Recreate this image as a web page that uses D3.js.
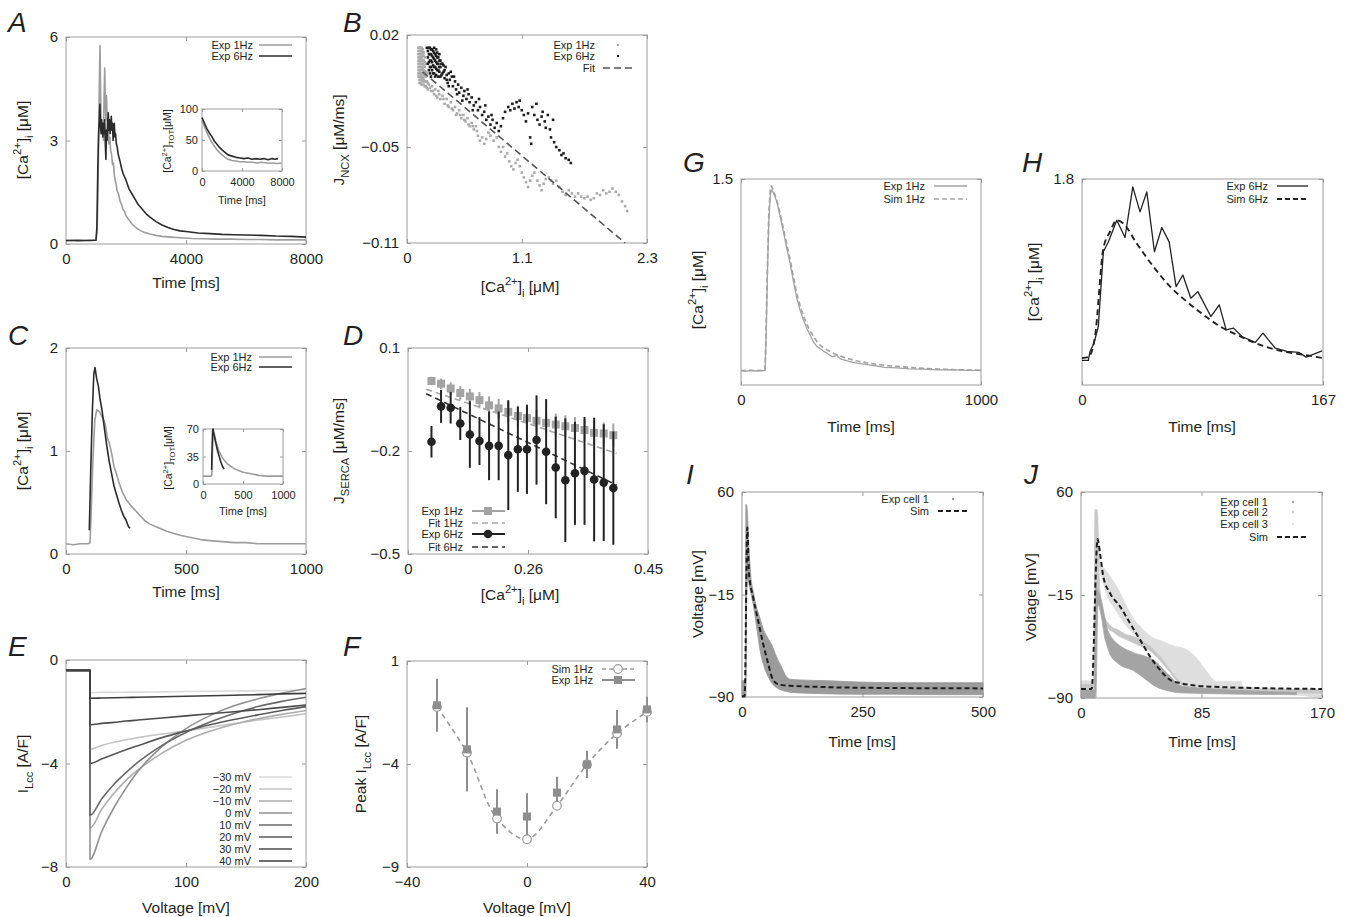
<!DOCTYPE html>
<html>
<head>
<meta charset="utf-8">
<script src="https://cdn.jsdelivr.net/npm/d3@7"></script>
<style>
  html, body { margin: 0; padding: 0; background: #fff; }
</style>
</head>
<body>
<svg id="fig" width="1346" height="917" xmlns="http://www.w3.org/2000/svg"></svg>
<script>
// ================= data =================

// A: [Ca2+]i transients, time (ms) vs concentration (uM)
const aExp1Hz = [[0,0.1],[200,0.11],[400,0.09],[600,0.1],[800,0.11],[1000,0.12],[1040,0.4],[1070,1.8],[1100,3.9],[1120,5.1],[1135,5.75],[1150,4.6],[1170,3.6],[1190,3.2],[1210,3.5],[1230,3.3],[1250,3.0],[1270,4.3],[1290,5.1],[1310,4.2],[1330,3.6],[1350,4.3],[1370,3.7],[1390,3.2],[1410,3.4],[1430,2.9],[1460,3.1],[1490,2.7],[1520,2.6],[1550,2.3],[1580,2.35],[1610,2.0],[1640,1.85],[1670,1.75],[1700,1.55],[1750,1.45],[1800,1.25],[1850,1.15],[1900,1.0],[1950,0.95],[2000,0.82],[2100,0.7],[2200,0.58],[2300,0.5],[2400,0.43],[2500,0.38],[2600,0.34],[2800,0.29],[3000,0.25],[3200,0.22],[3500,0.2],[3800,0.18],[4200,0.16],[4600,0.15],[5000,0.14],[5500,0.14],[6000,0.13],[6500,0.13],[7000,0.12],[7500,0.12],[8000,0.12]];
const aExp6Hz = [[0,0.1],[200,0.1],[400,0.11],[600,0.1],[800,0.1],[1000,0.11],[1030,0.5],[1060,2.2],[1090,3.3],[1110,3.6],[1130,4.05],[1150,3.4],[1170,3.2],[1190,3.6],[1210,3.3],[1230,3.1],[1250,3.5],[1270,3.2],[1290,3.6],[1310,2.9],[1330,2.45],[1350,3.3],[1370,3.0],[1390,3.5],[1410,3.8],[1430,3.3],[1450,3.6],[1470,3.2],[1490,3.4],[1510,3.7],[1530,3.3],[1550,3.5],[1570,3.0],[1590,3.4],[1610,3.5],[1630,3.1],[1650,3.2],[1680,2.9],[1710,2.8],[1740,2.6],[1770,2.5],[1800,2.4],[1850,2.2],[1900,2.05],[1950,1.95],[2000,1.85],[2100,1.6],[2200,1.45],[2300,1.3],[2400,1.15],[2500,1.05],[2600,0.95],[2700,0.85],[2800,0.78],[3000,0.65],[3200,0.55],[3400,0.48],[3600,0.42],[3800,0.38],[4000,0.36],[4400,0.32],[4800,0.3],[5200,0.28],[5600,0.27],[6000,0.26],[6500,0.25],[7000,0.23],[7500,0.22],[8000,0.2]];
// A inset: total Ca2+ (uM)
const aTot1Hz = [[0,82],[250,71],[500,62],[750,53],[1000,46],[1250,40],[1500,34],[1750,30],[2000,26],[2300,22],[2600,19],[3000,17],[3400,16],[3800,15],[4200,15],[4600,14],[5000,14],[5500,13],[6000,14],[6500,13],[7000,13],[7500,12],[8000,13]];
const aTot6Hz = [[0,86],[250,77],[500,68],[750,61],[1000,55],[1250,48],[1500,43],[1750,38],[2000,34],[2300,30],[2600,26],[3000,24],[3400,22],[3800,21],[4200,20],[4600,21],[5000,19],[5400,20],[5800,19],[6200,20],[6600,18],[7000,20],[7300,19],[7600,20]];

// B: NCX flux vs [Ca2+]i
const bExp1Hz = [[0.11,0.012],[0.11,0.008],[0.11,0.004],[0.11,0.0],[0.11,-0.004],[0.12,0.01],[0.12,0.006],[0.12,0.002],[0.12,-0.002],[0.12,-0.006],[0.12,-0.01],[0.13,0.012],[0.13,0.008],[0.13,0.004],[0.13,0.0],[0.13,-0.004],[0.13,-0.008],[0.14,0.01],[0.14,0.006],[0.14,0.002],[0.14,-0.002],[0.14,-0.006],[0.14,-0.011],[0.15,0.009],[0.15,0.004],[0.15,-0.001],[0.15,-0.007],[0.16,0.007],[0.16,0.001],[0.16,-0.005],[0.16,-0.011],[0.17,0.003],[0.17,-0.003],[0.17,-0.009],[0.18,-0.006],[0.18,-0.012],[0.19,-0.009],[0.2,-0.014],[0.21,-0.011],[0.23,-0.015],[0.24,-0.012],[0.26,-0.017],[0.27,-0.014],[0.29,-0.019],[0.3,-0.015],[0.32,-0.02],[0.34,-0.018],[0.36,-0.023],[0.38,-0.02],[0.4,-0.025],[0.42,-0.022],[0.44,-0.027],[0.46,-0.025],[0.48,-0.029],[0.5,-0.027],[0.52,-0.032],[0.54,-0.03],[0.56,-0.034],[0.58,-0.032],[0.6,-0.037],[0.62,-0.035],[0.64,-0.039],[0.66,-0.037],[0.68,-0.043],[0.7,-0.046],[0.72,-0.044],[0.74,-0.048],[0.76,-0.045],[0.78,-0.041],[0.8,-0.043],[0.83,-0.046],[0.86,-0.044],[0.88,-0.05],[0.9,-0.053],[0.92,-0.05],[0.94,-0.056],[0.96,-0.054],[0.98,-0.059],[1.0,-0.062],[1.02,-0.064],[1.04,-0.06],[1.06,-0.058],[1.08,-0.062],[1.1,-0.066],[1.12,-0.069],[1.14,-0.072],[1.16,-0.075],[1.18,-0.071],[1.2,-0.068],[1.22,-0.066],[1.25,-0.071],[1.27,-0.074],[1.29,-0.077],[1.31,-0.073],[1.33,-0.07],[1.36,-0.069],[1.38,-0.071],[1.4,-0.073],[1.43,-0.071],[1.46,-0.075],[1.49,-0.078],[1.52,-0.08],[1.55,-0.077],[1.58,-0.079],[1.61,-0.081],[1.64,-0.079],[1.67,-0.081],[1.7,-0.082],[1.73,-0.081],[1.76,-0.083],[1.79,-0.082],[1.82,-0.079],[1.85,-0.08],[1.88,-0.077],[1.91,-0.079],[1.94,-0.078],[1.97,-0.076],[2.0,-0.078],[2.03,-0.08],[2.06,-0.084],[2.09,-0.087],[2.11,-0.09],
  [0.11,0.01],[0.11,0.006],[0.11,0.002],[0.11,-0.002],[0.11,-0.006],[0.12,0.012],[0.12,0.008],[0.12,0.004],[0.12,0.0],[0.12,-0.004],[0.12,-0.008],[0.13,0.01],[0.13,0.006],[0.13,0.002],[0.13,-0.002],[0.13,-0.006],[0.13,-0.01],[0.14,0.012],[0.14,0.008],[0.14,0.004],[0.14,0.0],[0.14,-0.004],[0.14,-0.008],[0.15,0.011],[0.15,0.007],[0.15,0.002],[0.15,-0.004],[0.15,-0.009],[0.16,0.009],[0.16,0.004],[0.16,-0.002],[0.16,-0.008],[0.17,0.006],[0.17,0.0],[0.17,-0.006],[0.17,-0.012],[0.18,0.002],[0.18,-0.003],[0.18,-0.009],[0.19,-0.004],[0.19,-0.013],[0.2,-0.01],[0.22,-0.013],[0.25,-0.015],[0.28,-0.018],[0.31,-0.017],[0.35,-0.02],[0.39,-0.024],[0.43,-0.026],[0.47,-0.03],[0.51,-0.03],[0.55,-0.033],[0.59,-0.036],[0.63,-0.037],[0.67,-0.04]];
const bExp6Hz = [[0.19,0.012],[0.2,0.01],[0.2,0.006],[0.21,0.012],[0.21,0.003],[0.22,0.008],[0.22,0.0],[0.23,0.011],[0.23,0.004],[0.24,-0.002],[0.24,0.007],[0.25,0.01],[0.25,0.001],[0.26,0.005],[0.26,-0.004],[0.27,0.008],[0.27,0.0],[0.28,0.003],[0.28,-0.005],[0.29,0.006],[0.29,-0.002],[0.3,0.002],[0.3,-0.006],[0.31,0.004],[0.31,-0.003],[0.32,0.0],[0.33,-0.005],[0.34,0.002],[0.35,-0.003],[0.36,-0.007],[0.37,0.0],[0.38,-0.005],[0.39,-0.01],[0.4,-0.004],[0.41,-0.008],[0.43,-0.006],[0.44,-0.012],[0.46,-0.009],[0.47,-0.014],[0.49,-0.011],[0.5,-0.016],[0.52,-0.013],[0.54,-0.018],[0.55,-0.015],[0.57,-0.02],[0.59,-0.017],[0.6,-0.022],[0.62,-0.019],[0.64,-0.024],[0.66,-0.022],[0.68,-0.027],[0.7,-0.025],[0.72,-0.03],[0.74,-0.028],[0.76,-0.033],[0.78,-0.031],[0.8,-0.036],[0.82,-0.033],[0.84,-0.038],[0.86,-0.035],[0.88,-0.04],[0.9,-0.037],[0.92,-0.032],[0.94,-0.028],[0.97,-0.025],[0.99,-0.027],[1.01,-0.023],[1.03,-0.026],[1.05,-0.022],[1.07,-0.025],[1.08,-0.021],[1.1,-0.027],[1.12,-0.03],[1.14,-0.034],[1.16,-0.029],[1.18,-0.044],[1.19,-0.048],[1.2,-0.025],[1.22,-0.03],[1.24,-0.023],[1.25,-0.033],[1.27,-0.036],[1.29,-0.031],[1.3,-0.028],[1.32,-0.034],[1.33,-0.038],[1.35,-0.03],[1.37,-0.039],[1.38,-0.044],[1.4,-0.033],[1.41,-0.047],[1.43,-0.05],[1.46,-0.052],[1.48,-0.055],[1.5,-0.054],[1.52,-0.057],[1.55,-0.058],[1.57,-0.06],
  [0.2,0.002],[0.21,0.008],[0.21,-0.002],[0.22,0.012],[0.22,0.004],[0.22,-0.004],[0.23,0.008],[0.23,0.0],[0.23,-0.006],[0.24,0.011],[0.24,0.003],[0.25,0.006],[0.25,-0.004],[0.26,0.012],[0.26,0.009],[0.26,0.0],[0.27,0.004],[0.27,-0.006],[0.28,0.011],[0.28,0.007],[0.28,-0.001],[0.29,0.009],[0.29,0.002],[0.3,0.006],[0.3,-0.002],[0.31,0.008],[0.31,0.0],[0.32,0.004],[0.32,-0.006],[0.33,0.002],[0.34,-0.004],[0.35,0.001],[0.36,-0.002],[0.38,-0.008],[0.4,-0.012],[0.42,-0.003],[0.45,-0.006],[0.48,-0.017],[0.53,-0.021],[0.58,-0.014],[0.63,-0.027],[0.69,-0.02],[0.75,-0.024],[0.81,-0.03]];
const bFit = [[0.15,-0.003],[2.09,-0.11]];

// C: [Ca2+]i transients over one beat
const cExp1Hz = [[0,0.1],[30,0.09],[60,0.1],[90,0.1],[100,0.11],[105,0.4],[112,0.9],[120,1.3],[128,1.4],[140,1.38],[150,1.33],[158,1.3],[165,1.24],[172,1.13],[180,1.08],[190,0.98],[200,0.85],[210,0.78],[220,0.7],[235,0.6],[250,0.53],[270,0.47],[290,0.42],[310,0.37],[330,0.32],[350,0.29],[380,0.26],[420,0.22],[450,0.2],[480,0.18],[520,0.16],[560,0.14],[600,0.13],[650,0.12],[700,0.11],[750,0.11],[800,0.1],[850,0.1],[900,0.1],[950,0.1],[1000,0.1]];
const cExp6Hz = [[97,0.23],[103,0.8],[110,1.4],[116,1.75],[121,1.81],[128,1.7],[135,1.63],[142,1.5],[150,1.4],[160,1.22],[170,1.05],[180,0.9],[190,0.78],[200,0.66],[210,0.58],[220,0.5],[230,0.43],[240,0.37],[250,0.33],[258,0.28],[262,0.26],[267,0.25]];
const cTot1Hz = [[0,10],[50,10],[100,10],[110,11],[118,40],[128,66],[140,64],[160,55],[200,42],[250,32],[300,26],[400,19],[500,15],[600,13],[700,11],[800,10],[900,10],[1000,10]];
const cTot6Hz = [[108,18],[112,40],[120,68],[126,70],[140,62],[160,52],[180,43],[200,36],[220,29],[245,22],[265,19]];

// D: SERCA flux vs [Ca2+]i, mean and error
const dCa = [0.044,0.062,0.080,0.098,0.116,0.134,0.152,0.170,0.188,0.206,0.223,0.241,0.259,0.277,0.295,0.313,0.331,0.349,0.367,0.385];
const dExp1Hz = [0.004,-0.004,-0.018,-0.031,-0.041,-0.052,-0.067,-0.076,-0.086,-0.098,-0.104,-0.112,-0.118,-0.123,-0.128,-0.133,-0.139,-0.147,-0.149,-0.154];
const dErr1Hz = [0.012,0.015,0.018,0.02,0.022,0.024,0.026,0.028,0.03,0.03,0.032,0.032,0.032,0.032,0.032,0.032,0.032,0.032,0.032,0.034];
const dExp6Hz = [-0.173,-0.070,-0.074,-0.120,-0.152,-0.171,-0.185,-0.185,-0.212,-0.195,-0.195,-0.168,-0.202,-0.248,-0.285,-0.265,-0.258,-0.283,-0.292,-0.308];
const dErr6Hz = [0.046,0.048,0.046,0.048,0.097,0.07,0.1,0.1,0.16,0.124,0.13,0.13,0.153,0.148,0.18,0.15,0.157,0.18,0.17,0.165];
const dFit1Hz = [[0.034,-0.020],[0.391,-0.207]];
const dFit6Hz = [[0.034,-0.033],[0.391,-0.299]];

// E: L-type Ca2+ current traces for voltage steps
const eStepLabels = ['\u221230 mV','\u221220 mV','\u221210 mV','0 mV','10 mV','20 mV','30 mV','40 mV'];
const eHold = [[0,-0.4],[20,-0.4]];
const eTimes = [20,30,40,50,60,80,100,120,140,160,180,200];
const eCurrents = [
  [-1.26,-1.25,-1.25,-1.24,-1.24,-1.23,-1.22,-1.21,-1.2,-1.19,-1.18,-1.16],
  [-3.45,-3.3,-3.18,-3.08,-3.0,-2.86,-2.74,-2.6,-2.46,-2.32,-2.2,-2.08],
  [-6.5,-5.75,-5.15,-4.65,-4.25,-3.6,-3.1,-2.75,-2.48,-2.27,-2.1,-1.95],
  [-7.7,-6.6,-5.7,-4.95,-4.3,-3.35,-2.65,-2.15,-1.77,-1.5,-1.28,-1.1],
  [-6.0,-5.35,-4.8,-4.35,-3.95,-3.3,-2.8,-2.4,-2.07,-1.8,-1.6,-1.44],
  [-4.0,-3.82,-3.64,-3.47,-3.31,-3.0,-2.74,-2.5,-2.3,-2.12,-1.95,-1.8],
  [-2.5,-2.45,-2.41,-2.36,-2.32,-2.24,-2.16,-2.08,-2.0,-1.92,-1.83,-1.74],
  [-1.48,-1.47,-1.46,-1.45,-1.44,-1.42,-1.40,-1.38,-1.36,-1.34,-1.31,-1.29]
];

// F: peak I-V relation
const fVolt = [-30,-20,-10,0,10,20,30,40];
const fSim1Hz = [-1.23,-3.45,-6.65,-7.65,-6.03,-4.02,-2.52,-1.47];
const fExp1Hz = [-1.15,-3.29,-6.31,-6.55,-5.39,-4.02,-2.32,-1.35];
const fErr1Hz = [1.29,2.04,1.08,1.13,0.77,0.66,0.94,0.62];

// G: 1 Hz transient, experiment vs simulation
const gExp1Hz = [[0,0.106],[20,0.1],[40,0.108],[60,0.102],[80,0.106],[100,0.105],[104,0.3],[110,0.8],[116,1.2],[122,1.38],[126,1.42],[132,1.41],[140,1.38],[150,1.33],[160,1.25],[170,1.17],[180,1.09],[190,1.0],[205,0.886],[220,0.74],[233,0.63],[247,0.54],[261,0.47],[275,0.41],[289,0.36],[303,0.31],[317,0.28],[330,0.265],[344,0.245],[360,0.23],[380,0.205],[400,0.215],[414,0.19],[450,0.172],[483,0.16],[520,0.15],[560,0.14],[600,0.128],[650,0.125],[700,0.118],[761,0.116],[820,0.11],[880,0.112],[940,0.106],[1000,0.106]];
const gSim1Hz = [[0,0.105],[100,0.105],[104,0.35],[110,0.85],[116,1.25],[122,1.42],[126,1.45],[132,1.43],[140,1.39],[150,1.34],[160,1.27],[170,1.19],[180,1.11],[190,1.03],[205,0.91],[220,0.77],[233,0.66],[247,0.57],[261,0.5],[275,0.44],[289,0.39],[303,0.35],[317,0.315],[330,0.29],[344,0.27],[380,0.235],[414,0.21],[450,0.19],[483,0.175],[520,0.163],[560,0.152],[600,0.143],[650,0.135],[700,0.128],[761,0.121],[820,0.116],[880,0.112],[940,0.109],[1000,0.107]];

// H: 6 Hz transient, experiment vs simulation
const hExp6Hz = [[0,0.215],[4.4,0.215],[5.55,0.293],[8.33,0.366],[11.3,0.511],[14.8,1.164],[18.3,1.251],[24.1,1.44],[29.8,1.289],[35.2,1.731],[40.2,1.513],[44.9,1.687],[50.2,1.164],[55.3,1.376],[60.4,1.251],[65.2,0.859],[69.9,0.961],[75.4,0.758],[80.3,0.816],[89.3,0.598],[95.1,0.7],[99.9,0.482],[105,0.497],[110.8,0.424],[120.1,0.372],[125.4,0.453],[133.9,0.322],[142,0.293],[150.1,0.285],[155.4,0.244],[166.3,0.299]];
const hSim6Hz = [[0,0.235],[4.4,0.244],[9,0.424],[14.8,1.193],[19.4,1.339],[24.1,1.44],[28.7,1.411],[37.9,1.237],[49.5,1.034],[61.1,0.859],[72.6,0.729],[84.2,0.613],[95.8,0.511],[107.3,0.438],[118.9,0.372],[130.5,0.322],[142,0.287],[153.6,0.264],[167,0.235]];

// I: action potentials, envelope of recorded traces [t, low, high] and simulation
const iCell1 = [[0,-90,-78],[7,-90,-78],[8,-90,51],[10,-12,50],[12,-2,40],[14,-6,22],[16,-10,10],[19,-15,-4],[23,-22,-12],[30,-38,-24],[37,-55,-32],[45,-67,-41],[54,-75,-47],[62,-80,-52],[71,-83,-60],[82,-85,-68],[92,-86,-75],[100,-86.5,-77],[120,-87,-77.5],[170,-87.6,-78],[240,-88,-79],[320,-88,-79.5],[400,-88.3,-79.5],[500,-88.3,-79.5]];
const iSim = [[0,-89.5],[5.5,-89.5],[11,34],[14.5,0.4],[22.8,-16.6],[33.2,-33.6],[43.6,-50.6],[54,-65.2],[64.3,-77.4],[78,-81],[99,-81.7],[168,-82.7],[237,-83.2],[500,-83.7]];

// J: action potentials of three cells [t, low, high] and simulation
const jCell1 = [[0,-90,-84],[9.5,-90,-84],[10.5,-90,-10],[12,-22,-12],[14.6,-32,-20],[16.9,-47,-32],[18.1,-51,-38],[20.4,-58,-44],[25.1,-64,-50],[27.5,-66,-52],[36.9,-70,-57],[46.3,-77,-60],[53.3,-82,-64],[60.3,-84.5,-71.8],[62.7,-85.1,-74],[67.4,-86,-79.1],[74.4,-86.4,-82],[152,-87.6,-85.9]];
const jCell2 = [[0,-83,-80],[9,-83,-80],[10,-83,47],[11,-10,47],[13.4,-20.8,-11],[16.9,-35,-31.7],[18.1,-37.8,-34],[22.8,-42,-39],[25.1,-43.9,-40],[32.2,-47.5,-43.9],[34.5,-48.7,-44.5],[41.6,-52,-47.5],[48.6,-55.5,-52.4],[55.6,-62.5,-59.7],[62.7,-71,-69.4],[69.7,-79,-77.9],[79.1,-83.5,-82.7],[170,-86.4,-84]];
const jCell3 = [[0,-80,-77.5],[9,-80,-77.5],[10,-80,47],[11.5,8,47],[13.4,3,8.3],[15.7,-6.3,5],[18.1,-15,2.2],[22.8,-23.3,-5],[25.1,-27,-8.7],[32.2,-37.8,-23.3],[39.2,-46,-35.4],[41.6,-50,-38],[51,-57.2,-46.3],[58,-64.5,-49],[62.7,-70,-51.2],[65,-74.2,-52],[74.4,-81.5,-54.8],[81.5,-83,-60.9],[88.5,-84,-70.6],[95.6,-84.5,-77.9],[113,-85,-77.9],[114,-85,-82],[170,-90,-84]];
const jSim = [[0,-83.4],[7.5,-83.4],[11.7,25.8],[13.4,15.6],[15.7,-1.4],[20.4,-13.5],[27.5,-23.3],[34.5,-35.4],[41.6,-47.5],[48.6,-59.7],[55.6,-69.4],[62.7,-76.7],[69.7,-79.1],[79.1,-80.8],[97.9,-82],[121.4,-82.7],[170,-83.4]];

// ================= drawing =================
const FONT = '"Liberation Sans", Arial, Helvetica, sans-serif';
const INK = '#231f20';
const FRAME = '#9c9c9c';
const LIGHT = '#9d9d9d';
const DARK = '#2b2b2b';

const svg = d3.select('#fig');
svg.append('rect').attr('width', 1346).attr('height', 917).attr('fill', '#fff');

// text with super/subscripts; parts are strings or [text, 'sup'|'sub']
function rich(x, y, parts, fs, anchor, rotate) {
  const t = svg.append('text')
    .attr('x', x).attr('y', y)
    .attr('font-family', FONT).attr('font-size', fs).attr('fill', INK)
    .attr('text-anchor', anchor || 'middle');
  if (rotate) t.attr('transform', `rotate(-90 ${x} ${y})`);
  let shift = 0;
  parts.forEach(p => {
    const str = Array.isArray(p) ? p[0] : p;
    const kind = Array.isArray(p) ? p[1] : '';
    const off = kind === 'sup' ? -0.42 * fs : kind === 'sub' ? 0.3 * fs : 0;
    t.append('tspan').attr('dy', off - shift).attr('font-size', kind ? 0.72 * fs : fs).text(str);
    shift = off;
  });
  return t;
}

function letter(x, y, s) {
  svg.append('text').attr('x', x).attr('y', y).attr('font-family', FONT)
    .attr('font-size', 28).attr('font-style', 'italic').attr('fill', INK).text(s);
}

// frame with mirrored inward ticks
function frameAxes(x, y, o) {
  const g = svg.append('g');
  const [xa, xb] = x.range();
  const [yb, ya] = y.range();
  const fs = o.fs || 15, tk = o.tk || 4;
  const style = s => {
    s.select('.domain').remove();
    s.selectAll('line').attr('stroke', FRAME).attr('stroke-width', 1);
    s.selectAll('text').attr('font-size', fs).attr('font-family', FONT).attr('fill', INK);
  };
  g.append('g').attr('transform', `translate(0,${yb})`)
    .call(d3.axisBottom(x).tickValues(o.xv).tickFormat((d, i) => o.xl[i])
      .tickSizeInner(-tk).tickSizeOuter(0).tickPadding(o.xpad || 9)).call(style);
  g.append('g').attr('transform', `translate(0,${ya})`)
    .call(d3.axisTop(x).tickValues(o.xv).tickFormat('').tickSizeInner(-tk).tickSizeOuter(0)).call(style);
  g.append('g').attr('transform', `translate(${xa},0)`)
    .call(d3.axisLeft(y).tickValues(o.yv).tickFormat((d, i) => o.yl[i])
      .tickSizeInner(-tk).tickSizeOuter(0).tickPadding(o.ypad || 8)).call(style);
  g.append('g').attr('transform', `translate(${xb},0)`)
    .call(d3.axisRight(y).tickValues(o.yv).tickFormat('').tickSizeInner(-tk).tickSizeOuter(0)).call(style);
  g.append('rect').attr('x', xa).attr('y', ya).attr('width', xb - xa).attr('height', yb - ya)
    .attr('fill', 'none').attr('stroke', FRAME).attr('stroke-width', 1);
  return g;
}

function path(data, x, y, stroke, width, dash, curve) {
  const gen = d3.line().x(d => x(d[0])).y(d => y(d[1])).curve(curve || d3.curveLinear);
  svg.append('path').datum(data).attr('d', gen).attr('fill', 'none')
    .attr('stroke', stroke).attr('stroke-width', width)
    .attr('stroke-dasharray', dash || null).attr('stroke-linejoin', 'round');
}

function band(data, x, y, fill) {
  const gen = d3.area().x(d => x(d[0])).y0(d => y(d[1])).y1(d => y(d[2])).curve(d3.curveMonotoneX);
  svg.append('path').datum(data).attr('d', gen).attr('fill', fill).attr('stroke', fill).attr('stroke-width', 0.8);
}

function legendText(x, y, s, fs) {
  svg.append('text').attr('x', x).attr('y', y).attr('font-family', FONT)
    .attr('font-size', fs || 11).attr('fill', INK).attr('text-anchor', 'end').text(s);
}
function legendLine(x1, x2, y, stroke, width, dash) {
  svg.append('line').attr('x1', x1).attr('x2', x2).attr('y1', y).attr('y2', y)
    .attr('stroke', stroke).attr('stroke-width', width).attr('stroke-dasharray', dash || null);
}

const caLabel = ['[Ca', ['2+', 'sup'], ']', ['i', 'sub'], ' [\u03bcM]'];
const caTotLabel = ['[Ca', ['2+', 'sup'], ']', ['TOT', 'sub'], '[\u03bcM]'];

// ---------- A ----------
{
  const x = d3.scaleLinear().domain([0, 8000]).range([66, 306]);
  const y = d3.scaleLinear().domain([0, 6]).range([244, 37]);
  frameAxes(x, y, { xv: [0, 4000, 8000], xl: ['0', '4000', '8000'], yv: [0, 3, 6], yl: ['0', '3', '6'] });
  path(aExp1Hz, x, y, LIGHT, 1.6);
  path(aExp6Hz, x, y, DARK, 1.6);
  legendText(253, 49, 'Exp 1Hz'); legendLine(259, 292, 45, LIGHT, 1.6);
  legendText(253, 60, 'Exp 6Hz'); legendLine(259, 292, 56, DARK, 1.6);
  letter(8, 32, 'A');
  rich(28, 140, caLabel, 15.5, 'middle', true);
  rich(186, 288, ['Time [ms]'], 15.5);
  // inset: total calcium
  const xi = d3.scaleLinear().domain([0, 8000]).range([202, 282]);
  const yi = d3.scaleLinear().domain([0, 100]).range([171, 109]);
  svg.append('rect').attr('x', 202).attr('y', 109).attr('width', 80).attr('height', 62).attr('fill', '#fff');
  frameAxes(xi, yi, { xv: [0, 4000, 8000], xl: ['0', '4000', '8000'], yv: [0, 50, 100], yl: ['0', '50', '100'], fs: 11, tk: 3, xpad: 7, ypad: 4 });
  path(aTot1Hz, xi, yi, LIGHT, 1.6);
  path(aTot6Hz, xi, yi, DARK, 1.6);
  rich(171, 141, caTotLabel, 10.5, 'middle', true);
  rich(242, 204, ['Time [ms]'], 11);
}

// ---------- B ----------
{
  const x = d3.scaleLinear().domain([0, 2.3]).range([407, 647]);
  const y = d3.scaleLinear().domain([-0.11, 0.02]).range([243, 35]);
  frameAxes(x, y, { xv: [0, 1.1, 2.3], xl: ['0', '1.1', '2.3'], yv: [0.02, -0.05, -0.11], yl: ['0.02', '\u22120.05', '\u22120.11'] });
  svg.append('g').selectAll('rect').data(bExp1Hz).join('rect')
    .attr('x', d => x(d[0]) - 1.3).attr('y', d => y(d[1]) - 1.3).attr('width', 2.6).attr('height', 2.6).attr('fill', '#ababab');
  svg.append('g').selectAll('rect').data(bExp6Hz).join('rect')
    .attr('x', d => x(d[0]) - 1.3).attr('y', d => y(d[1]) - 1.3).attr('width', 2.6).attr('height', 2.6).attr('fill', '#1e1e1e');
  path(bFit, x, y, '#555', 1.6, '7,4');
  legendText(595, 49, 'Exp 1Hz'); svg.append('rect').attr('x', 617).attr('y', 44).attr('width', 2).attr('height', 2).attr('fill', '#ababab');
  legendText(595, 60, 'Exp 6Hz'); svg.append('rect').attr('x', 617).attr('y', 55).attr('width', 2).attr('height', 2).attr('fill', '#1e1e1e');
  legendText(595, 72, 'Fit'); legendLine(603, 633, 68, '#555', 1.6, '7,4');
  letter(343, 32, 'B');
  rich(344, 140, ['J', ['NCX', 'sub'], ' [\u03bcM/ms]'], 15.5, 'middle', true);
  rich(520, 292, caLabel, 15.5);
}

// ---------- C ----------
{
  const x = d3.scaleLinear().domain([0, 1000]).range([66, 306]);
  const y = d3.scaleLinear().domain([0, 2]).range([554, 348]);
  frameAxes(x, y, { xv: [0, 500, 1000], xl: ['0', '500', '1000'], yv: [0, 1, 2], yl: ['0', '1', '2'] });
  path(cExp1Hz, x, y, LIGHT, 1.6);
  path(cExp6Hz, x, y, DARK, 1.6);
  legendText(252, 361, 'Exp 1Hz'); legendLine(259, 292, 357, LIGHT, 1.6);
  legendText(252, 371, 'Exp 6Hz'); legendLine(259, 292, 367, DARK, 1.6);
  letter(8, 345, 'C');
  rich(28, 451, caLabel, 15.5, 'middle', true);
  rich(186, 597, ['Time [ms]'], 15.5);
  const xi = d3.scaleLinear().domain([0, 1000]).range([203, 283]);
  const yi = d3.scaleLinear().domain([0, 70]).range([484, 429]);
  frameAxes(xi, yi, { xv: [0, 500, 1000], xl: ['0', '500', '1000'], yv: [0, 35, 70], yl: ['0', '35', '70'], fs: 11, tk: 3, xpad: 7, ypad: 4 });
  path(cTot1Hz, xi, yi, LIGHT, 1.6);
  path(cTot6Hz, xi, yi, DARK, 1.6);
  rich(172, 458, caTotLabel, 10.5, 'middle', true);
  rich(243, 515, ['Time [ms]'], 11);
}

// ---------- D ----------
{
  const x = d3.scaleLinear().domain([0, 0.45]).range([408, 648]);
  const y = d3.scaleLinear().domain([-0.5, 0.1]).range([554, 348]);
  frameAxes(x, y, { xv: [0, 0.225, 0.45], xl: ['0', '0.26', '0.45'], yv: [0.1, -0.2, -0.5], yl: ['0.1', '\u22120.2', '\u22120.5'] });
  const SQ = '#a3a3a3';
  path(dFit1Hz, x, y, '#a8a8a8', 1.6, '6,4');
  path(dFit6Hz, x, y, '#333', 1.6, '6,4');
  dCa.forEach((c, i) => {
    svg.append('line').attr('x1', x(c)).attr('x2', x(c)).attr('y1', y(dExp1Hz[i] - dErr1Hz[i])).attr('y2', y(dExp1Hz[i] + dErr1Hz[i]))
      .attr('stroke', SQ).attr('stroke-width', 2);
    svg.append('rect').attr('x', x(c) - 4).attr('y', y(dExp1Hz[i]) - 4).attr('width', 8).attr('height', 8).attr('fill', SQ);
  });
  dCa.forEach((c, i) => {
    svg.append('line').attr('x1', x(c)).attr('x2', x(c)).attr('y1', y(dExp6Hz[i] - dErr6Hz[i])).attr('y2', y(dExp6Hz[i] + dErr6Hz[i]))
      .attr('stroke', '#222').attr('stroke-width', 2);
    svg.append('circle').attr('cx', x(c)).attr('cy', y(dExp6Hz[i])).attr('r', 4.3).attr('fill', '#222');
  });
  legendText(463, 515, 'Exp 1Hz'); legendLine(472, 505, 511, SQ, 2);
  svg.append('rect').attr('x', 484).attr('y', 507).attr('width', 8).attr('height', 8).attr('fill', SQ);
  legendText(463, 527, 'Fit 1Hz'); legendLine(472, 505, 523, '#a8a8a8', 1.6, '6,4');
  legendText(463, 538, 'Exp 6Hz'); legendLine(472, 505, 534, '#222', 2);
  svg.append('circle').attr('cx', 488).attr('cy', 534).attr('r', 4.3).attr('fill', '#222');
  legendText(463, 551, 'Fit 6Hz'); legendLine(472, 505, 547, '#333', 1.6, '6,4');
  letter(343, 345, 'D');
  rich(344, 451, ['J', ['SERCA', 'sub'], ' [\u03bcM/ms]'], 15.5, 'middle', true);
  rich(520, 600, caLabel, 15.5);
}

// ---------- E ----------
{
  const x = d3.scaleLinear().domain([0, 200]).range([66, 306]);
  const y = d3.scaleLinear().domain([-8, 0]).range([867, 660]);
  frameAxes(x, y, { xv: [0, 100, 200], xl: ['0', '100', '200'], yv: [0, -4, -8], yl: ['0', '\u22124', '\u22128'] });
  const shades = ['#dadada', '#c3c3c3', '#adadad', '#919191', '#686868', '#595959', '#4b4b4b', '#3d3d3d'];
  eCurrents.forEach((vals, k) => {
    const trace = eHold.concat(eTimes.map((t, j) => [t, vals[j]]));
    path(trace, x, y, shades[k], 1.6, null, d3.curveMonotoneX);
  });
  eStepLabels.forEach((s, k) => {
    const cy = 777 + k * 12;
    legendText(251, cy + 4, s);
    legendLine(259, 292, cy, shades[k], 1.6);
  });
  letter(8, 656, 'E');
  rich(28, 764, ['I', ['Lcc', 'sub'], ' [A/F]'], 15.5, 'middle', true);
  rich(186, 913, ['Voltage [mV]'], 15.5);
}

// ---------- F ----------
{
  const x = d3.scaleLinear().domain([-40, 40]).range([407, 647]);
  const y = d3.scaleLinear().domain([-9, 1]).range([867, 661]);
  frameAxes(x, y, { xv: [-40, 0, 40], xl: ['\u221240', '0', '40'], yv: [1, -4, -9], yl: ['1', '\u22124', '\u22129'] });
  const SQ = '#8e8e8e';
  fVolt.forEach((v, i) => {
    svg.append('line').attr('x1', x(v)).attr('x2', x(v)).attr('y1', y(fExp1Hz[i] - fErr1Hz[i])).attr('y2', y(fExp1Hz[i] + fErr1Hz[i]))
      .attr('stroke', SQ).attr('stroke-width', 2);
  });
  path(fVolt.map((v, i) => [v, fSim1Hz[i]]), x, y, '#9a9a9a', 1.6, '5,4', d3.curveCatmullRom.alpha(0.5));
  fVolt.forEach((v, i) => {
    svg.append('circle').attr('cx', x(v)).attr('cy', y(fSim1Hz[i])).attr('r', 4.3).attr('fill', '#fff').attr('stroke', '#9a9a9a').attr('stroke-width', 1.2);
  });
  fVolt.forEach((v, i) => {
    svg.append('rect').attr('x', x(v) - 4).attr('y', y(fExp1Hz[i]) - 4).attr('width', 8).attr('height', 8).attr('fill', SQ);
  });
  legendText(593, 673, 'Sim 1Hz'); legendLine(602, 635, 669, '#9a9a9a', 1.6, '4,3');
  svg.append('circle').attr('cx', 618).attr('cy', 669).attr('r', 4.3).attr('fill', '#fff').attr('stroke', '#9a9a9a').attr('stroke-width', 1.2);
  legendText(593, 684, 'Exp 1Hz'); legendLine(602, 635, 680, SQ, 2);
  svg.append('rect').attr('x', 614).attr('y', 676).attr('width', 8).attr('height', 8).attr('fill', SQ);
  letter(343, 656, 'F');
  rich(366, 764, ['Peak I', ['Lcc', 'sub'], ' [A/F]'], 15.5, 'middle', true);
  rich(527, 913, ['Voltage [mV]'], 15.5);
}

// ---------- G ----------
{
  const x = d3.scaleLinear().domain([0, 1000]).range([741, 981]);
  const y = d3.scaleLinear().domain([0, 1.5]).range([385, 179]);
  frameAxes(x, y, { xv: [0, 1000], xl: ['0', '1000'], yv: [1.5], yl: ['1.5'] });
  path(gExp1Hz, x, y, '#a2a2a2', 1.3);
  path(gSim1Hz, x, y, '#a2a2a2', 1.7, '5,3');
  legendText(925, 190, 'Exp 1Hz'); legendLine(934, 967, 186, '#a2a2a2', 1.3);
  legendText(925, 203, 'Sim 1Hz'); legendLine(934, 967, 199, '#a2a2a2', 1.7, '5,3');
  letter(683, 172, 'G');
  rich(703, 290, caLabel, 15.5, 'middle', true);
  rich(861, 432, ['Time [ms]'], 15.5);
}

// ---------- H ----------
{
  const x = d3.scaleLinear().domain([0, 167]).range([1082, 1323]);
  const y = d3.scaleLinear().domain([0, 1.8]).range([385, 179]);
  frameAxes(x, y, { xv: [0, 167], xl: ['0', '167'], yv: [1.8], yl: ['1.8'] });
  path(hExp6Hz, x, y, '#222', 1.3);
  path(hSim6Hz, x, y, '#222', 1.9, '6,4', d3.curveMonotoneX);
  legendText(1268, 190, 'Exp 6Hz'); legendLine(1277, 1308, 186, '#222', 1.3);
  legendText(1268, 203, 'Sim 6Hz'); legendLine(1277, 1308, 199, '#222', 1.9, '5,3');
  letter(1022, 172, 'H');
  rich(1039, 282, caLabel, 15.5, 'middle', true);
  rich(1202, 432, ['Time [ms]'], 15.5);
}

// ---------- I ----------
{
  const x = d3.scaleLinear().domain([0, 500]).range([742, 983]);
  const y = d3.scaleLinear().domain([-90, 60]).range([697, 492]);
  band(iCell1, x, y, '#9b9b9b');
  frameAxes(x, y, { xv: [0, 250, 500], xl: ['0', '250', '500'], yv: [60, -15, -90], yl: ['60', '\u221215', '\u221290'] });
  path(iSim, x, y, '#1e1e1e', 2, '5,3', d3.curveMonotoneX);
  legendText(929, 503, 'Exp cell 1');
  svg.append('circle').attr('cx', 953).attr('cy', 499).attr('r', 1.2).attr('fill', '#9b9b9b');
  legendText(929, 515, 'Sim'); legendLine(938, 969, 511, '#1e1e1e', 2, '5,3');
  letter(686, 484, 'I');
  rich(703, 594, ['Voltage [mV]'], 15.5, 'middle', true);
  rich(862, 747, ['Time [ms]'], 15.5);
}

// ---------- J ----------
{
  const x = d3.scaleLinear().domain([0, 170]).range([1081, 1322]);
  const y = d3.scaleLinear().domain([-90, 60]).range([698, 492]);
  band(jCell3, x, y, '#dedede');
  band(jCell2, x, y, '#c6c6c6');
  band(jCell1, x, y, '#a4a4a4');
  frameAxes(x, y, { xv: [0, 85, 170], xl: ['0', '85', '170'], yv: [60, -15, -90], yl: ['60', '\u221215', '\u221290'] });
  path(jSim, x, y, '#1e1e1e', 2, '5,3', d3.curveMonotoneX);
  legendText(1268, 506, 'Exp cell 1');
  svg.append('circle').attr('cx', 1293).attr('cy', 502).attr('r', 1.2).attr('fill', '#a4a4a4');
  legendText(1268, 516, 'Exp cell 2');
  svg.append('circle').attr('cx', 1293).attr('cy', 512).attr('r', 1.2).attr('fill', '#c6c6c6');
  legendText(1268, 528, 'Exp cell 3');
  svg.append('circle').attr('cx', 1293).attr('cy', 524).attr('r', 1.2).attr('fill', '#dedede');
  legendText(1268, 541, 'Sim'); legendLine(1277, 1307, 537, '#1e1e1e', 2, '5,3');
  letter(1024, 484, 'J');
  rich(1036, 597, ['Voltage [mV]'], 15.5, 'middle', true);
  rich(1202, 747, ['Time [ms]'], 15.5);
}
</script>
</body>
</html>
